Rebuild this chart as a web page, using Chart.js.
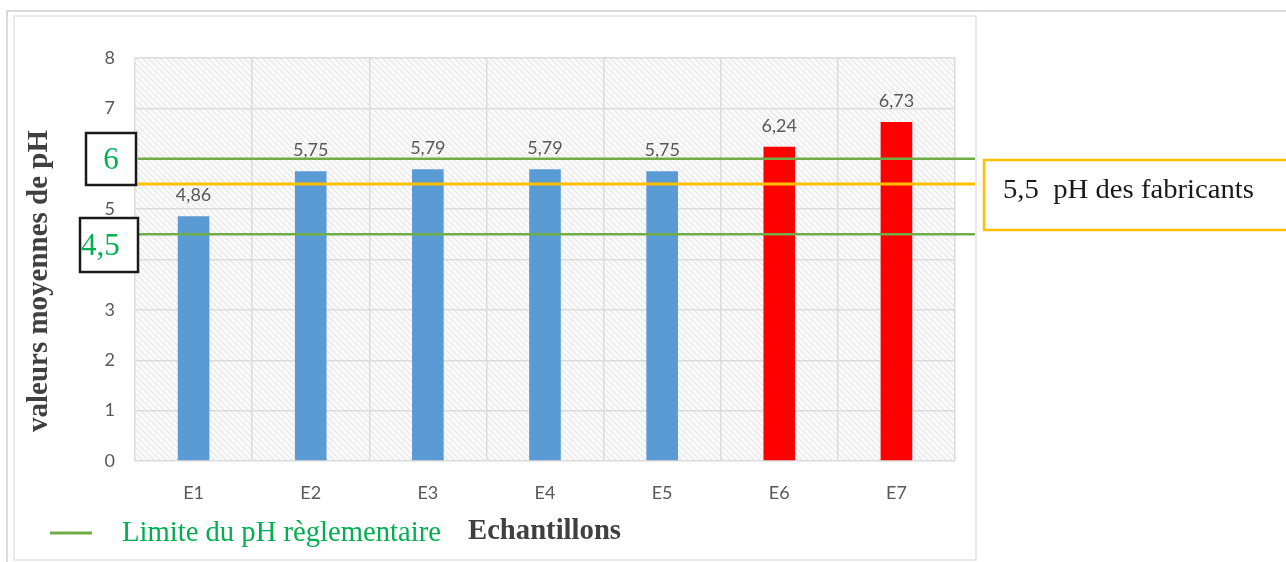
<!DOCTYPE html>
<html>
<head>
<meta charset="utf-8">
<style>
  html, body { margin: 0; padding: 0; background: #ffffff; }
  #wrap { width: 1286px; height: 562px; position: relative; }
</style>
<script src="https://cdn.jsdelivr.net/npm/chart.js@4.4.1/dist/chart.umd.min.js"></script>
</head>
<body>
<div id="wrap"><canvas id="c" width="1286" height="562"></canvas></div>
<script>
// Mean pH per sample
const categories = ['E1', 'E2', 'E3', 'E4', 'E5', 'E6', 'E7'];
const phValues = [4.86, 5.75, 5.79, 5.79, 5.75, 6.24, 6.73];
const valueLabels = ['4,86', '5,75', '5,79', '5,79', '5,75', '6,24', '6,73'];
const barColors = ['#5b9bd5', '#5b9bd5', '#5b9bd5', '#5b9bd5', '#5b9bd5', '#ff0000', '#ff0000'];
const yTicks = [0, 1, 2, 3, 4, 5, 6, 7, 8];

// Reference levels
const regLimits = [6, 4.5];
const regLimitLabels = ['6', '4,5'];
const makerPh = 5.5;
const makerLabel = '5,5  pH des fabricants';

const SERIF = '"Liberation Serif", "Times New Roman", serif';
const SANS = 'Lato, "Open Sans", sans-serif';

function hatchPattern(ctx) {
  const p = document.createElement('canvas');
  p.width = 6; p.height = 6;
  const g = p.getContext('2d');
  g.fillStyle = '#f9f9f9';
  g.fillRect(0, 0, 6, 6);
  g.strokeStyle = '#e2e2e2';
  g.lineWidth = 1;
  g.beginPath();
  g.moveTo(0, 0); g.lineTo(6, 6);
  g.moveTo(-3, 3); g.lineTo(3, 9);
  g.moveTo(3, -3); g.lineTo(9, 3);
  g.stroke();
  return ctx.createPattern(p, 'repeat');
}

// draw text squeezed or stretched horizontally to a given width
function fitText(ctx, text, x, y, width) {
  const w = ctx.measureText(text).width;
  ctx.save();
  ctx.translate(x, y);
  ctx.scale(width / w, 1);
  ctx.fillText(text, 0, 0);
  ctx.restore();
}

const backdrop = {
  id: 'backdrop',
  beforeDraw(chart) {
    const { ctx, chartArea: a } = chart;
    ctx.save();
    // page frame
    ctx.strokeStyle = '#cfcfcf';
    ctx.lineWidth = 1.5;
    ctx.beginPath();
    ctx.moveTo(7, 562); ctx.lineTo(7, 11); ctx.lineTo(1286, 11);
    ctx.stroke();
    ctx.strokeStyle = '#dddddd';
    ctx.lineWidth = 1.2;
    ctx.strokeRect(14, 16, 962, 544);
    // hatched plot background
    ctx.fillStyle = hatchPattern(ctx);
    ctx.fillRect(a.left, a.top, a.right - a.left, a.bottom - a.top);
    ctx.restore();
  }
};

const overlay = {
  id: 'overlay',
  afterDraw(chart) {
    const { ctx, chartArea: a } = chart;
    const x = chart.scales.x, y = chart.scales.y;
    ctx.save();

    // value labels above bars
    ctx.font = '18px ' + SANS;
    ctx.fillStyle = '#595959';
    ctx.textAlign = 'center';
    ctx.textBaseline = 'alphabetic';
    phValues.forEach((v, i) => {
      ctx.fillText(valueLabels[i], x.getPixelForValue(i), y.getPixelForValue(v) - 15);
    });

    // reference lines
    ctx.lineCap = 'butt';
    ctx.strokeStyle = '#70ad47';
    ctx.lineWidth = 2.5;
    regLimits.forEach(v => {
      const py = y.getPixelForValue(v);
      ctx.beginPath(); ctx.moveTo(a.left + 3, py); ctx.lineTo(975, py); ctx.stroke();
    });
    ctx.strokeStyle = '#ffc000';
    ctx.lineWidth = 3;
    const my = y.getPixelForValue(makerPh);
    ctx.beginPath(); ctx.moveTo(a.left - 5, my); ctx.lineTo(975, my); ctx.stroke();

    // boxed limit values
    ctx.font = '31px ' + SERIF;
    ctx.textBaseline = 'middle';
    const boxes = [
      { x: 86, y: 133, w: 50, h: 52, tx: 111, align: 'center' },
      { x: 80, y: 218, w: 58, h: 54, tx: 81, align: 'left' }
    ];
    boxes.forEach((b, i) => {
      ctx.fillStyle = '#ffffff';
      ctx.fillRect(b.x, b.y, b.w, b.h);
      ctx.strokeStyle = '#1a1a1a';
      ctx.lineWidth = 2.5;
      ctx.strokeRect(b.x, b.y, b.w, b.h);
      ctx.fillStyle = '#00b050';
      ctx.textAlign = b.align;
      ctx.fillText(regLimitLabels[i], b.tx, b.y + b.h / 2 + 2);
    });

    // manufacturers' pH box
    ctx.strokeStyle = '#ffc000';
    ctx.lineWidth = 2.5;
    ctx.strokeRect(984, 160, 310, 70);
    ctx.fillStyle = '#1a1a1a';
    ctx.font = '27px ' + SERIF;
    ctx.textAlign = 'left';
    fitText(ctx, makerLabel, 1003, 191, 251);

    // axis titles
    ctx.fillStyle = '#404040';
    ctx.font = 'bold 29px ' + SERIF;
    ctx.textAlign = 'center';
    ctx.save();
    ctx.translate(40, 281);
    ctx.rotate(-Math.PI / 2);
    ctx.fillText('valeurs moyennes de pH', 0, 0);
    ctx.restore();
    ctx.textAlign = 'left';
    fitText(ctx, 'Echantillons', 468, 532, 153);

    // legend
    ctx.strokeStyle = '#70ad47';
    ctx.lineWidth = 3;
    ctx.beginPath(); ctx.moveTo(50, 533); ctx.lineTo(92, 533); ctx.stroke();
    ctx.fillStyle = '#00b050';
    ctx.font = '29px ' + SERIF;
    fitText(ctx, 'Limite du pH règlementaire', 122, 533, 319);

    ctx.restore();
  }
};

new Chart(document.getElementById('c'), {
  type: 'bar',
  data: {
    labels: categories,
    datasets: [{
      data: phValues,
      backgroundColor: barColors,
      borderWidth: 0,
      barPercentage: 0.27,
      categoryPercentage: 1
    }]
  },
  options: {
    responsive: false,
    animation: false,
    devicePixelRatio: 1,
    layout: { padding: { left: 0, top: 58, right: 331, bottom: 61 } },
    plugins: { legend: { display: false }, tooltip: { enabled: false } },
    scales: {
      x: {
        grid: { color: '#dcdcdc', lineWidth: 1.5, drawTicks: false, offset: true },
        border: { display: false },
        ticks: { color: '#595959', font: { family: SANS, size: 18 }, padding: 21 },
        afterFit(s) { s.height = 40; }
      },
      y: {
        min: 0, max: 8,
        afterBuildTicks(s) { s.ticks = yTicks.map(v => ({ value: v })); },
        grid: { color: '#dcdcdc', lineWidth: 1.5, drawTicks: false },
        border: { display: false },
        ticks: { color: '#595959', font: { family: SANS, size: 18 }, padding: 20 },
        afterFit(s) { s.width = 135; }
      }
    }
  },
  plugins: [backdrop, overlay]
});
</script>
</body>
</html>
